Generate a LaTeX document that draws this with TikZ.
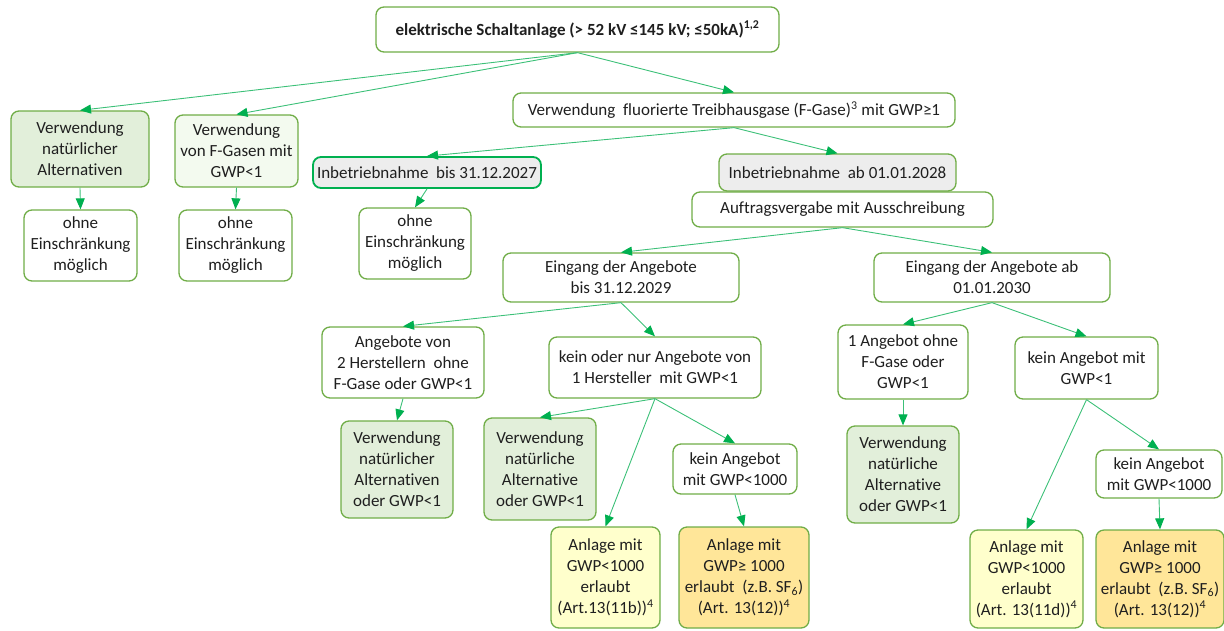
\documentclass[tikz,border=0pt]{standalone}
\usepackage{fontspec}
\setmainfont{Carlito}[Ligatures=NoCommon]
\usepackage{tikz}
\usetikzlibrary{positioning}
\usetikzlibrary{arrows.meta}
\definecolor{rahmen}{HTML}{70AD47}
\definecolor{rahmendunkel}{HTML}{00B050}
\definecolor{linie}{HTML}{3CC078}
\definecolor{spitze}{HTML}{00B050}
\definecolor{gruen}{HTML}{E2EFDA}
\definecolor{hellgruen}{HTML}{F3FAEF}
\definecolor{grau}{HTML}{EDEDED}
\definecolor{gelb}{HTML}{FFFFCC}
\definecolor{orangefill}{HTML}{FFE699}
\tikzset{
	kasten/.style={draw=rahmen,line width=1.3pt,rounded corners=8pt,fill=white,align=center,inner sep=0pt,text=black!88,font=\fontsize{17}{21}\selectfont},
	pfeil/.style={draw=linie,line width=0.9pt,-{Triangle[length=11pt,width=9pt,color=spitze]}}
}

\begin{document}
\begin{tikzpicture}[x=1pt,y=-1pt]
				\useasboundingbox (0,0) rectangle (1224,630);
				
				%Ebene 0
				\node[kasten,minimum width=403pt,minimum height=45pt] (anlage) at (577.5,29.5) {\textbf{elektrische Schaltanlage (> 52 kV ≤145 kV; ≤50kA)\textsuperscript{1,2}}};
				
				%Ebene 1
				\node[kasten,fill=gruen,minimum width=138pt,minimum height=76pt] (natalt) at (80,149) {Verwendung\\natürlicher\\Alternativen};
				\node[kasten,fill=hellgruen,minimum width=123pt,minimum height=72pt] (fgas) at (236.5,151) {Verwendung\\von F-Gasen mit\\GWP<1};
				\node[kasten,minimum width=442pt,minimum height=34pt] (fluor) at (734,110) {Verwendung\ \ fluorierte Treibhausgase (F-Gase)\textsuperscript{3} mit GWP≥1};
				
				\node[kasten,minimum width=113pt,minimum height=71pt] (ohneA) at (80.5,245.5) {ohne\\Einschränkung\\möglich};
				\node[kasten,minimum width=113pt,minimum height=71pt] (ohneB) at (235.5,245.5) {ohne\\Einschränkung\\möglich};
				
				%Inbetriebnahme
				\node[kasten,fill=grau,draw=rahmendunkel,line width=1.8pt,minimum width=228pt,minimum height=31pt] (ib27) at (427,172.5) {Inbetriebnahme\ \ bis 31.12.2027};
				\node[kasten,fill=grau,minimum width=237pt,minimum height=37pt] (ib28) at (837.5,172.5) {Inbetriebnahme\ \ ab 01.01.2028};
				\node[kasten,minimum width=301pt,minimum height=35pt] (auftrag) at (842.5,209.5) {Auftragsvergabe mit Ausschreibung};
				\node[kasten,minimum width=112pt,minimum height=71pt] (ohneC) at (415,243.5) {ohne\\Einschränkung\\möglich};
				
				%Eingang der Angebote
				\node[kasten,minimum width=236pt,minimum height=49pt] (ein29) at (621,277.5) {Eingang der Angebote\\bis 31.12.2029};
				\node[kasten,minimum width=236pt,minimum height=49pt] (ein30) at (992,277.5) {Eingang der Angebote ab\\01.01.2030};
				
				\node[kasten,minimum width=162pt,minimum height=71pt] (zwei) at (403,362.5) {Angebote von\\2 Herstellern\ \ ohne\\F-Gase oder GWP<1};
				\node[kasten,minimum width=212pt,minimum height=61pt] (keinEins) at (655,367.5) {kein oder nur Angebote von\\1 Hersteller\ \ mit GWP<1};
				\node[kasten,minimum width=130pt,minimum height=74pt] (eins) at (903,362) {1 Angebot ohne\\F-Gase oder\\GWP<1};
				\node[kasten,minimum width=143pt,minimum height=62pt] (kein) at (1086.5,368) {kein Angebot mit\\GWP<1};
				
				%Ergebnisse
				\node[kasten,fill=gruen,minimum width=112pt,minimum height=97pt] (natA) at (397,469.5) {Verwendung\\natürlicher\\Alternativen\\oder GWP<1};
				\node[kasten,fill=gruen,minimum width=112pt,minimum height=102pt] (natB) at (540,469) {Verwendung\\natürliche\\Alternative\\oder GWP<1};
				\node[kasten,minimum width=124pt,minimum height=50pt] (tsdA) at (735,469) {kein Angebot\\mit GWP<1000};
				\node[kasten,fill=gruen,minimum width=112pt,minimum height=97pt] (natC) at (903,474.5) {Verwendung\\natürliche\\Alternative\\oder GWP<1};
				\node[kasten,minimum width=126pt,minimum height=48pt] (tsdB) at (1159,474) {kein Angebot\\mit GWP<1000};
				
				\node[kasten,fill=gelb,minimum width=109pt,minimum height=101pt] (erlA) at (605.5,577.5) {Anlage mit\\GWP<1000\\erlaubt\\(Art.13(11b))\textsuperscript{4}};
				\node[kasten,fill=orangefill,minimum width=130pt,minimum height=101pt] (sfA) at (744,577.5) {Anlage mit\\GWP≥ 1000\\erlaubt\ \ (z.B. SF\textsubscript{6})\\(Art. 13(12))\textsuperscript{4}};
				\node[kasten,fill=gelb,minimum width=113pt,minimum height=98pt] (erlB) at (1026.5,579) {Anlage mit\\GWP<1000\\erlaubt\\(Art. 13(11d))\textsuperscript{4}};
				\node[kasten,fill=orangefill,minimum width=128pt,minimum height=98pt] (sfB) at (1160,579) {Anlage mit\\GWP≥ 1000\\erlaubt\ \ (z.B. SF\textsubscript{6})\\(Art. 13(12))\textsuperscript{4}};
				
				%Pfeile
				\draw[pfeil] (anlage.south) -- (natalt.north);
				\draw[pfeil] (anlage.south) -- (fgas.north);
				\draw[pfeil] (anlage.south) -- (fluor.north);
				\draw[pfeil] (natalt.south) -- (ohneA.north);
				\draw[pfeil] (fgas.south) -- (ohneB.north);
				\draw[pfeil] (fluor.south) -- (ib27.north);
				\draw[pfeil] (fluor.south) -- (ib28.north);
				\draw[pfeil] (ib27.south) -- (ohneC.north);
				\draw[pfeil] (auftrag.south) -- (ein29.north);
				\draw[pfeil] (auftrag.south) -- (ein30.north);
				\draw[pfeil] (ein29.south) -- (zwei.north);
				\draw[pfeil] (ein29.south) -- (keinEins.north);
				\draw[pfeil] (ein30.south) -- (eins.north);
				\draw[pfeil] (ein30.south) -- (kein.north);
				\draw[pfeil] (zwei.south) -- (natA.north);
				\draw[pfeil] (keinEins.south) -- (natB.north);
				\draw[pfeil] (keinEins.south) -- (erlA.north);
				\draw[pfeil] (keinEins.south) -- (tsdA.north);
				\draw[pfeil] (eins.south) -- (natC.north);
				\draw[pfeil] (kein.south) -- (erlB.north);
				\draw[pfeil] (kein.south) -- (tsdB.north);
				\draw[pfeil] (tsdA.south) -- (sfA.north);
				\draw[pfeil] (tsdB.south) -- (sfB.north);
				
\end{tikzpicture}
\end{document}
